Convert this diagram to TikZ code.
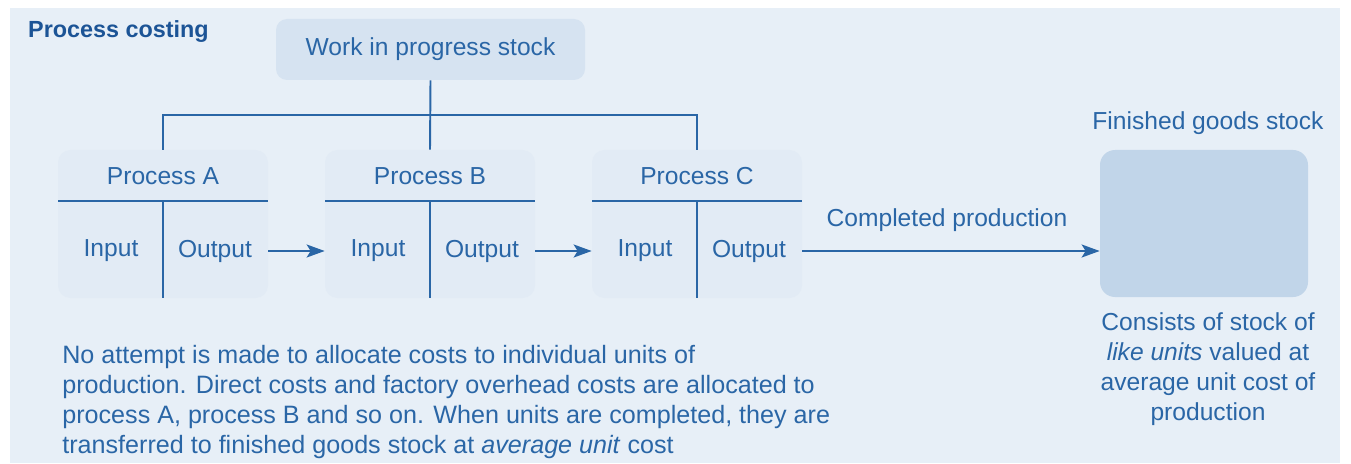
\documentclass[tikz,border=0pt]{standalone}
\usepackage{fontspec}
\setmainfont{Liberation Sans}
\usetikzlibrary{positioning, arrows.meta}
\definecolor{panelblue}{RGB}{231,239,247}
\definecolor{procfill}{RGB}{226,235,245}
\definecolor{wipfill}{RGB}{214,227,241}
\definecolor{stockfill}{RGB}{193,213,233}
\definecolor{inkblue}{RGB}{42,102,166}
\definecolor{titleblue}{RGB}{28,84,150}

\begin{document}
\begin{tikzpicture}[
    font=\fontsize{14pt}{17pt}\selectfont, text=inkblue,
    flow/.style={draw=inkblue, line width=1.1pt},
    arrow/.style={flow, -{Stealth[length=0.36cm, width=0.26cm, inset=0.08cm]}},
    procbox/.style={fill=procfill, rounded corners=0.25cm, minimum width=4.2cm, minimum height=2.96cm},
    wipbox/.style={fill=wipfill, rounded corners=0.22cm, minimum width=6.18cm, minimum height=1.22cm},
    stockbox/.style={fill=stockfill, rounded corners=0.3cm, minimum width=4.16cm, minimum height=2.94cm}
]
    \useasboundingbox (0,0) rectangle (27.02,9.26);
    % Panel
    \fill[panelblue] (0.2,0) rectangle (26.8,9.1);
    \node[anchor=west, text=titleblue, font=\fontsize{13.3pt}{16pt}\selectfont\bfseries] (title) at (0.44,8.62) {Process costing};

    % Work in progress
    \node[wipbox] (wip) at (8.61,8.27) {Work in progress stock};

    % Processes
    \foreach \p/\x in {A/3.26, B/8.6, C/13.94} {
        \node[procbox] (proc\p) at (\x,4.78) {};
        \node (head\p) at (\x,5.74) {Process \p};
        \draw[flow] (\x-2.1,5.24) -- (\x+2.1,5.24);
        \draw[flow] (\x,5.24) -- (proc\p.south);
        \node (in\p) at (\x-1.04,4.24) {Input};
        \node (out\p) at (\x+1.04,4.24) {Output};
    }

    % Links from stock to processes
    \draw[flow] (wip.south) -- (procB.north);
    \draw[flow] (procA.north) -- ++(0,0.7) -| (procC.north);

    % Finished goods
    \node[stockbox] (stock) at (24.08,4.79) {};
    \node (stocklabel) at (24.16,6.8) {Finished goods stock};
    \node[align=center, font=\fontsize{14pt}{17.07pt}\selectfont] (stocknote) at (24.16,1.88)
        {Consists of stock of\\\textit{like units} valued at\\average unit cost of\\production};

    % Transfers
    \draw[arrow] (outA -| procA.east) -- (inB -| procB.west);
    \draw[arrow] (outB -| procB.east) -- (inC -| procC.west);
    \draw[arrow] (outC -| procC.east) -- (outC -| stock.west);
    \node (done) at (18.94,4.86) {Completed production};

    % Note
    \node[anchor=west, align=left, inner sep=0pt, font=\fontsize{14.3pt}{17.07pt}\selectfont] (note) at (1.24,1.22)
        {No attempt is made to allocate costs to individual units of\\
         production. Direct costs and factory overhead costs are allocated to\\
         process A, process B and so on. When units are completed, they are\\
         transferred to finished goods stock at \textit{average unit} cost};
\end{tikzpicture}
\end{document}
